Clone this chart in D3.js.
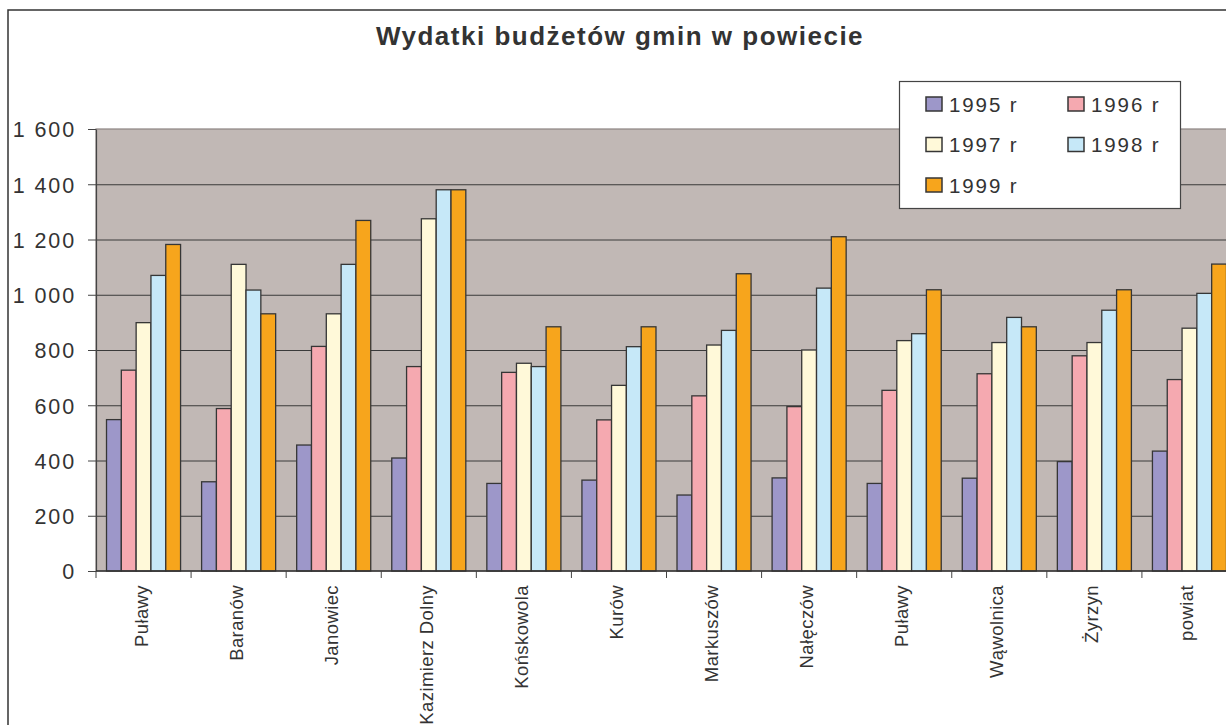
<!DOCTYPE html>
<html>
<head>
<meta charset="utf-8">
<script src="https://cdn.jsdelivr.net/npm/d3@7/dist/d3.min.js"></script>
<style>
  html, body { margin: 0; padding: 0; background: #fff; }
  svg { display: block; }
  text { font-family: "Liberation Sans", Arial, sans-serif; fill: #333; }
</style>
</head>
<body>
<svg id="chart" width="1226" height="725"></svg>
<script>
// Gminy (communes) of the county plus the county total
const categories = ["Puławy", "Baranów", "Janowiec", "Kazimierz Dolny", "Końskowola", "Kurów",
                    "Markuszów", "Nałęczów", "Puławy", "Wąwolnica", "Żyrzyn", "powiat"];
const years = ["1995 r", "1996 r", "1997 r", "1998 r", "1999 r"];
const v1995 = [548, 323, 456, 409, 317, 329, 275, 337, 317, 336, 396, 434];
const v1996 = [727, 588, 813, 740, 719, 547, 634, 595, 654, 714, 779, 693];
const v1997 = [899, 1110, 931, 1275, 752, 672, 818, 800, 834, 827, 827, 879];
const v1998 = [1070, 1017, 1110, 1380, 740, 812, 871, 1024, 859, 918, 944, 1005];
const v1999 = [1182, 931, 1269, 1380, 884, 884, 1076, 1210, 1018, 884, 1018, 1111];
const yTicks = [0, 200, 400, 600, 800, 1000, 1200, 1400, 1600];
const colors = ["#9d97c9", "#f5a9b0", "#fff9d9", "#c6e8f8", "#f7a51c"];
const title = "Wydatki budżetów gmin w powiecie";

const seriesValues = [v1995, v1996, v1997, v1998, v1999];

const svg = d3.select("#chart");
const plot = { left: 96, right: 1237, top: 129, bottom: 571 };

const x0 = d3.scaleBand()
  .domain(d3.range(categories.length))
  .range([plot.left, plot.right])
  .paddingInner(0).paddingOuter(0);

const x1 = d3.scaleBand()
  .domain(d3.range(years.length))
  .range([0, x0.bandwidth()])
  .paddingInner(0).paddingOuter(0.71);

const y = d3.scaleLinear().domain([0, 1600]).range([plot.bottom, plot.top]);

const fmt = d3.formatLocale({ decimal: ",", thousands: " ", grouping: [3], currency: ["", ""] }).format(",");

// outer frame of the chart area
svg.append("rect")
  .attr("x", 8).attr("y", 10).attr("width", 1400).attr("height", 900)
  .attr("fill", "none").attr("stroke", "#333").attr("stroke-width", 1.5);

// plot background
svg.append("rect")
  .attr("x", plot.left).attr("y", plot.top)
  .attr("width", plot.right - plot.left).attr("height", plot.bottom - plot.top)
  .attr("fill", "#c1b8b5").attr("stroke", "#8c8482").attr("stroke-width", 1.2);

// horizontal gridlines
svg.append("g").selectAll("line")
  .data(yTicks.filter(t => t > 0 && t < 1600))
  .join("line")
  .attr("x1", plot.left).attr("x2", plot.right)
  .attr("y1", d => y(d) + 0.5).attr("y2", d => y(d) + 0.5)
  .attr("stroke", "#3a3a3a").attr("stroke-width", 1);

// bars
const groups = svg.append("g").selectAll("g")
  .data(categories.map((c, i) => i))
  .join("g")
  .attr("transform", i => `translate(${x0(i)},0)`);

groups.selectAll("rect")
  .data(i => seriesValues.map((vals, s) => ({ s, v: vals[i] })))
  .join("rect")
  .attr("x", d => x1(d.s))
  .attr("width", x1.bandwidth())
  .attr("y", d => y(d.v))
  .attr("height", d => y(0) - y(d.v))
  .attr("fill", d => colors[d.s])
  .attr("stroke", "#363636").attr("stroke-width", 1.3);

// y axis
const yAxis = svg.append("g")
  .attr("transform", `translate(${plot.left},0)`)
  .call(d3.axisLeft(y).tickValues(yTicks).tickSize(8).tickSizeOuter(0).tickPadding(12).tickFormat(fmt));
yAxis.select(".domain").attr("stroke", "#444").attr("stroke-width", 1.2);
yAxis.selectAll(".tick line").attr("stroke", "#444");
yAxis.selectAll(".tick text")
  .attr("font-size", 21.5).attr("letter-spacing", 1.9)
  .attr("font-family", "Liberation Sans, Arial, sans-serif")
  .attr("fill", "#333").attr("dy", "0.36em");

// x axis line and category boundary ticks
svg.append("line")
  .attr("x1", plot.left).attr("x2", plot.right)
  .attr("y1", plot.bottom).attr("y2", plot.bottom)
  .attr("stroke", "#333").attr("stroke-width", 1.3);

const boundaries = d3.range(categories.length + 1).map(i => i < categories.length ? x0(i) : plot.right);
svg.append("g").selectAll("line")
  .data(boundaries)
  .join("line")
  .attr("x1", d => d).attr("x2", d => d)
  .attr("y1", plot.bottom).attr("y2", plot.bottom + 7)
  .attr("stroke", "#444").attr("stroke-width", 1);

// rotated category labels
svg.append("g").selectAll("text")
  .data(categories)
  .join("text")
  .attr("transform", (d, i) => `translate(${x0(i) + x0.bandwidth() / 2 + 4},585) rotate(-90)`)
  .attr("text-anchor", "end")
  .attr("font-size", 18.5).attr("letter-spacing", 0.4)
  .text(d => d);

// title
svg.append("text")
  .attr("x", 620).attr("y", 45)
  .attr("text-anchor", "middle")
  .attr("font-size", 26).attr("font-weight", "bold").attr("letter-spacing", 1.5)
  .attr("fill", "#2f2f33")
  .text(title);

// legend
const legend = svg.append("g").attr("transform", "translate(899,81)");
legend.append("rect")
  .attr("x", 0.5).attr("y", 0.5).attr("width", 281).attr("height", 127)
  .attr("fill", "#fff").attr("stroke", "#444").attr("stroke-width", 1.2);

const items = legend.selectAll("g.item")
  .data(years)
  .join("g")
  .attr("class", "item")
  .attr("transform", (d, i) => `translate(${27 + (i % 2) * 142},${23 + Math.floor(i / 2) * 40.5})`);

items.append("rect")
  .attr("x", 0).attr("y", -7).attr("width", 16).attr("height", 14)
  .attr("fill", (d, i) => colors[i])
  .attr("stroke", "#363636").attr("stroke-width", 1.5);

items.append("text")
  .attr("x", 23).attr("y", 7.5)
  .attr("font-size", 20.5).attr("letter-spacing", 1.9)
  .text(d => d);
</script>
</body>
</html>
